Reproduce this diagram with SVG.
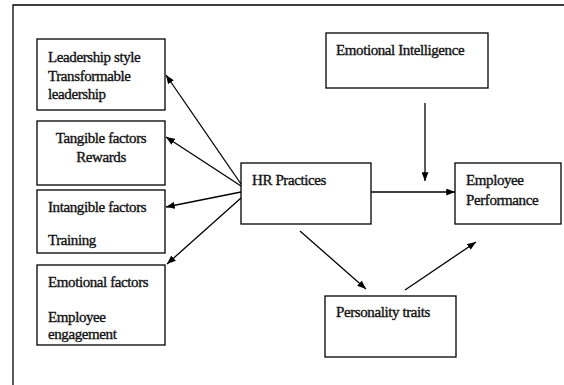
<svg xmlns="http://www.w3.org/2000/svg" width="564" height="385" viewBox="0 0 564 385">
<defs>
<marker id="ah" viewBox="0 0 10 8" refX="10" refY="4" markerWidth="9" markerHeight="7" markerUnits="userSpaceOnUse" orient="auto">
<path d="M0,0 L10,4 L0,8 z" fill="#000"/>
</marker>
<style>
.box{fill:#fff;stroke:#000;stroke-width:1.3}
.t{font-family:"Liberation Serif","Times New Roman",serif;font-size:15px;letter-spacing:-0.4px;fill:#111;stroke:#111;stroke-width:0.35}
.c{stroke:#000;stroke-width:1.3;fill:none;marker-end:url(#ah)}
.frame{stroke:#000;stroke-width:1.3;fill:none}
</style>
</defs>
<rect width="564" height="385" fill="#fff"/>
<path class="frame" d="M13,385 V5 H564"/>
<g id="leadership">
<rect class="box" x="37" y="39" width="128" height="71"/>
<text class="t" x="48" y="62">Leadership style</text>
<text class="t" x="48" y="81">Transformable</text>
<text class="t" x="48" y="99">leadership</text>
</g>
<g id="tangible">
<rect class="box" x="37" y="121" width="128" height="64"/>
<text class="t" x="101" y="143" text-anchor="middle">Tangible factors</text>
<text class="t" x="101" y="162" text-anchor="middle">Rewards</text>
</g>
<g id="intangible">
<rect class="box" x="37" y="190" width="128" height="63"/>
<text class="t" x="48" y="212">Intangible factors</text>
<text class="t" x="48" y="245">Training</text>
</g>
<g id="emotional">
<rect class="box" x="37" y="265" width="128" height="80"/>
<text class="t" x="48" y="287">Emotional factors</text>
<text class="t" x="48" y="322">Employee</text>
<text class="t" x="48" y="339">engagement</text>
</g>
<g id="hr">
<rect class="box" x="241" y="163" width="130" height="61"/>
<text class="t" x="252" y="185">HR Practices</text>
</g>
<g id="ei">
<rect class="box" x="326" y="33" width="162" height="55"/>
<text class="t" x="336" y="55">Emotional Intelligence</text>
</g>
<g id="performance">
<rect class="box" x="455" y="163" width="106" height="61"/>
<text class="t" x="466" y="185">Employee</text>
<text class="t" x="466" y="205">Performance</text>
</g>
<g id="personality">
<rect class="box" x="325" y="296" width="131" height="61"/>
<text class="t" x="336" y="317">Personality traits</text>
</g>
<g id="connectors">
<line class="c" x1="241" y1="184" x2="166" y2="75"/>
<line class="c" x1="241" y1="186" x2="166" y2="137"/>
<line class="c" x1="241" y1="192" x2="166" y2="207"/>
<line class="c" x1="241" y1="198" x2="167" y2="264"/>
<line class="c" x1="371" y1="192" x2="455" y2="192"/>
<line class="c" x1="425" y1="103" x2="425" y2="181"/>
<line class="c" x1="300" y1="231" x2="366" y2="289"/>
<line class="c" x1="405" y1="290" x2="476" y2="242"/>
</g>
</svg>
